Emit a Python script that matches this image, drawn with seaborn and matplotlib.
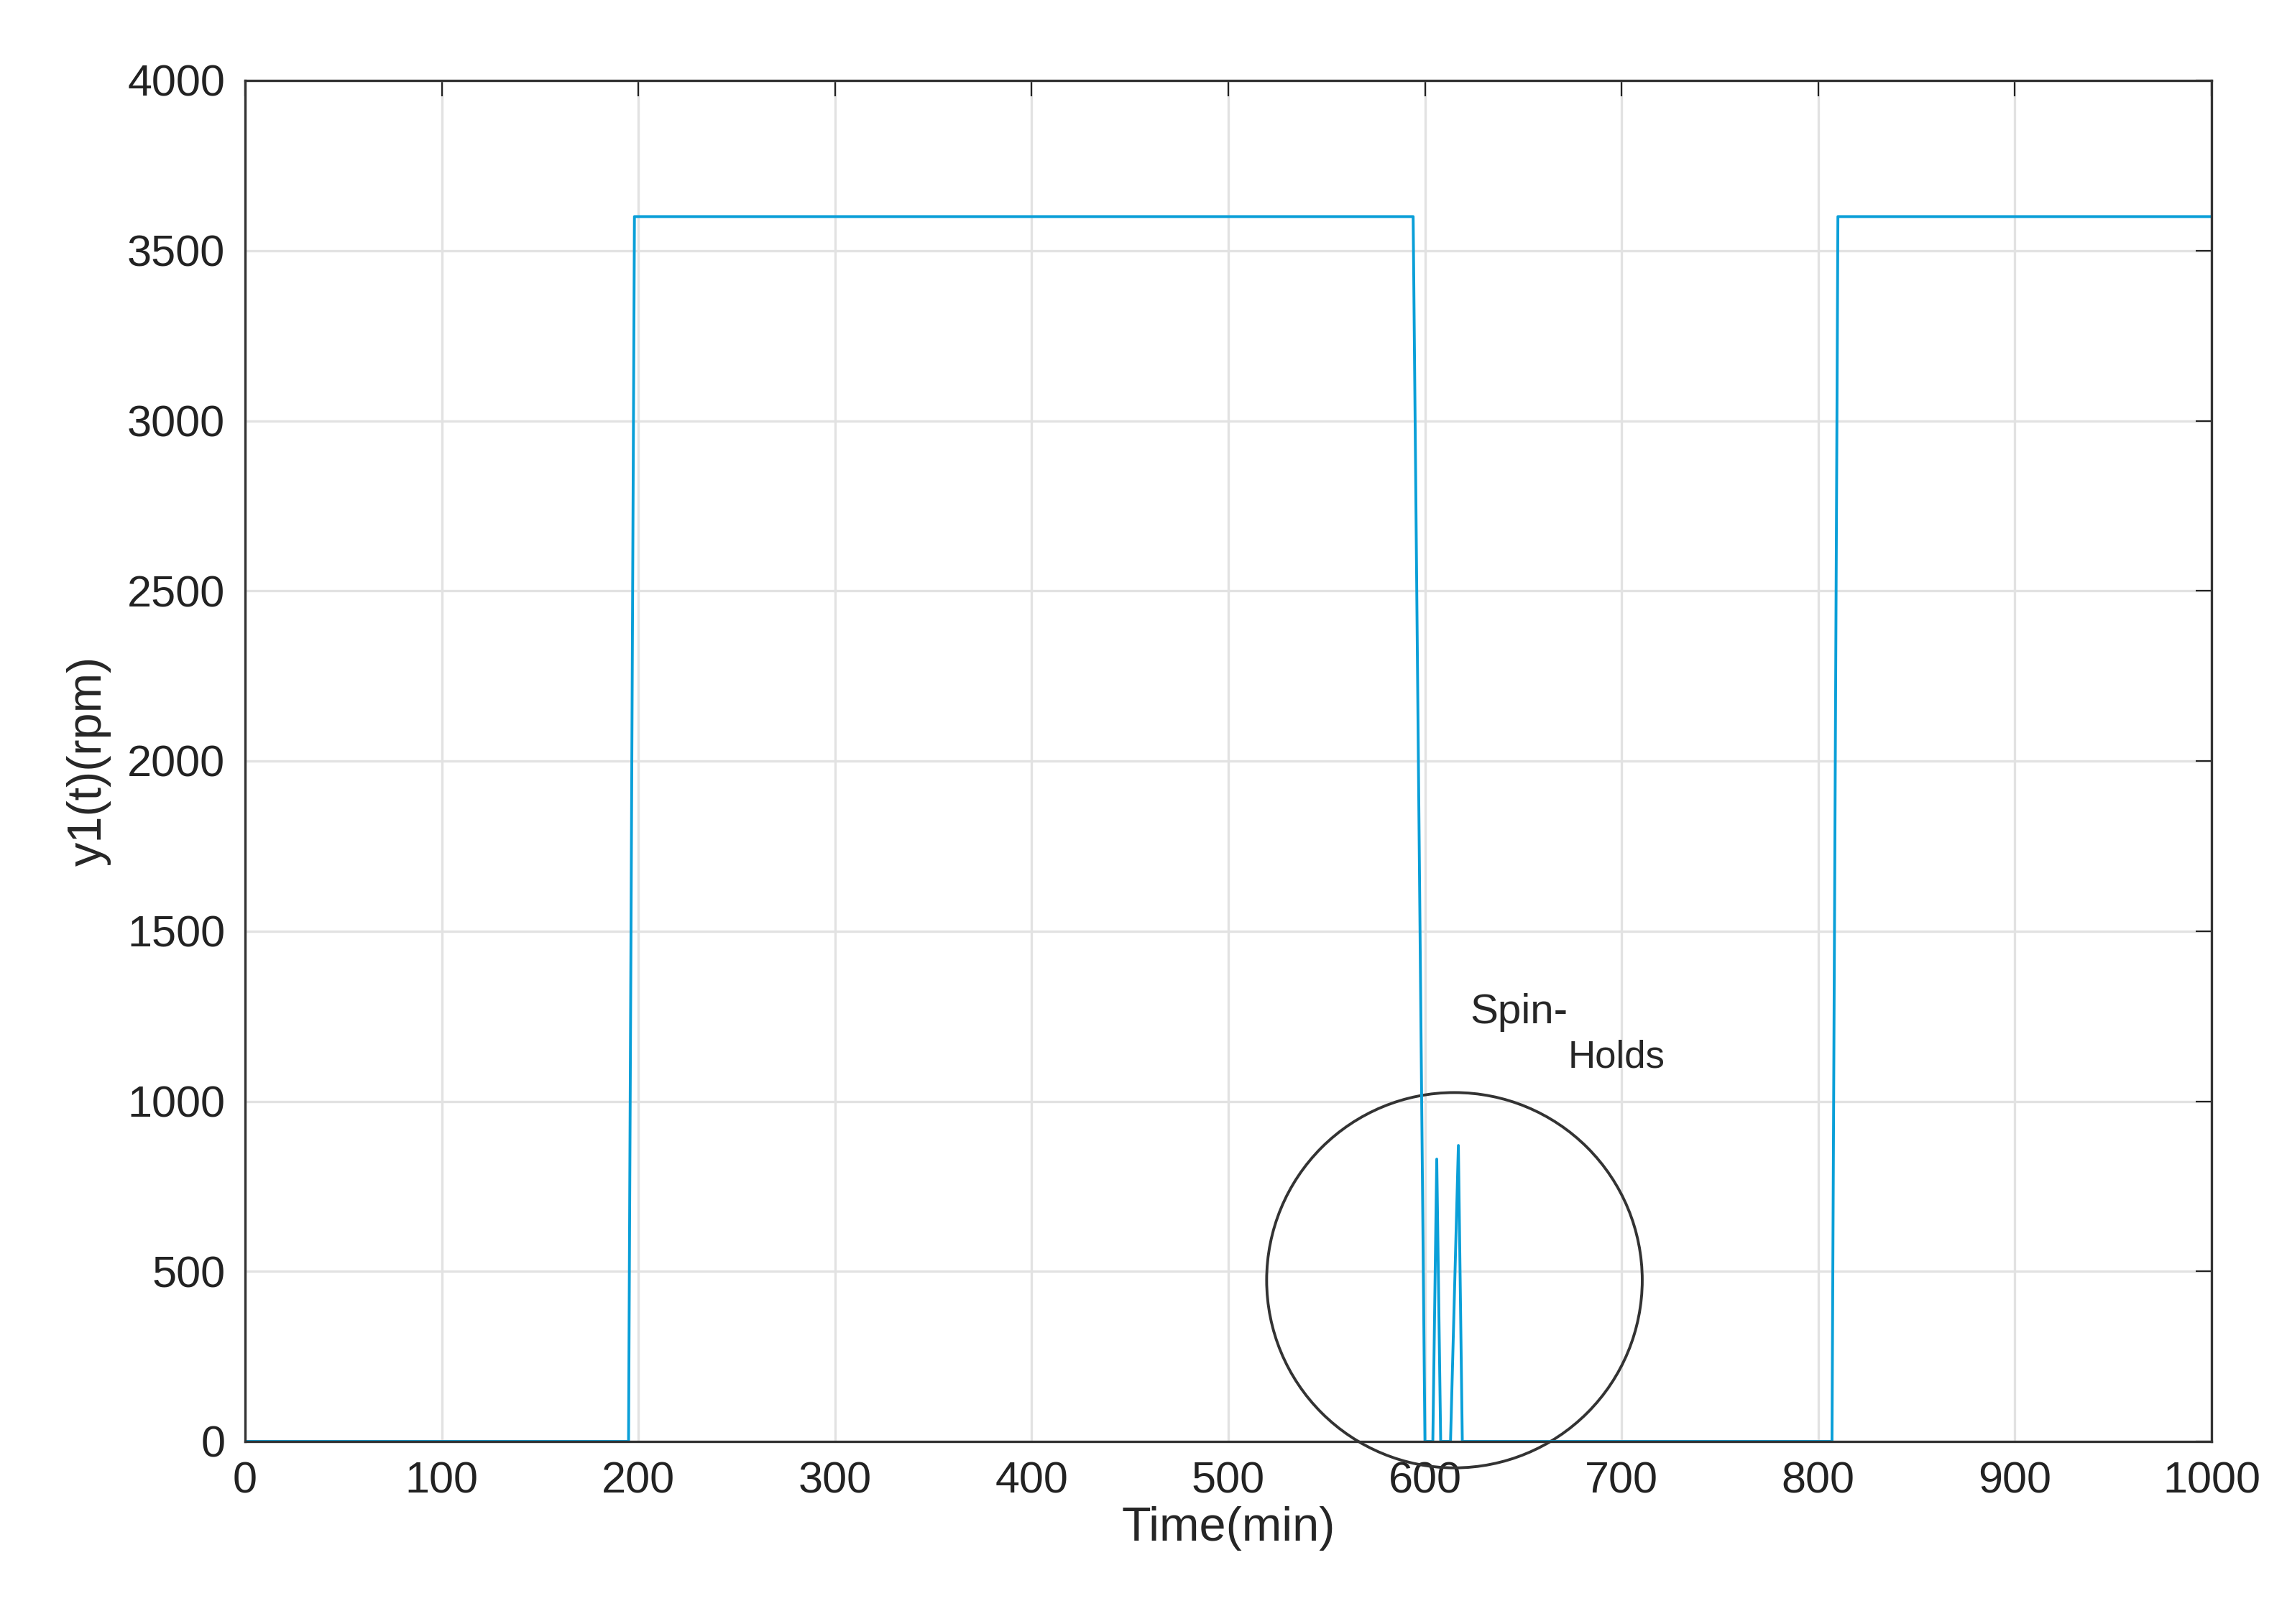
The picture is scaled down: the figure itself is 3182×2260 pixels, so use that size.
import matplotlib
matplotlib.use('Agg')
import matplotlib.pyplot as plt
from matplotlib.patches import Ellipse
import seaborn as sns
import pandas as pd

# опорные точки сигнала скорости
time_min = [0, 195, 198, 594, 600, 604, 606, 608, 613, 617, 619, 807, 810, 1000]
speed_rpm = [0, 0, 3600, 3600, 0, 0, 830, 0, 0, 870, 0, 0, 3600, 3600]

df = pd.DataFrame({'t': time_min, 'y': speed_rpm})

sns.set_style('white')
plt.rcParams['font.family'] = ['Liberation Sans', 'DejaVu Sans']

fig = plt.figure(figsize=(15.91, 11.3), dpi=200)
ax = fig.add_axes([341 / 3182, 1 - 2006 / 2260, (3077 - 341) / 3182, (2006 - 112) / 2260])
sns.lineplot(data=df, x='t', y='y', ax=ax, color='#0a9fd8', linewidth=1.4)

ax.set_xlim(0, 1000)
ax.set_ylim(0, 4000)
ax.set_xticks(range(0, 1001, 100))
ax.set_yticks(range(0, 4001, 500))
ax.grid(True, color='#e2e2e2', linewidth=1.2)
ax.tick_params(direction='in', length=8, labelsize=22, pad=10, top=True, right=True, colors='#222222')
for s in ax.spines.values():
    s.set_color('#333333')
    s.set_linewidth(1.2)
ax.set_xlabel('Time(min)', fontsize=24, labelpad=2)
ax.set_ylabel('y1(t)(rpm)', fontsize=24, labelpad=8)

ax.add_patch(Ellipse((615, 474), 191, 1103, fill=False, edgecolor='#333333', linewidth=1.4, clip_on=False))
spin = ax.text(623, 1230, 'Spin-', fontsize=21)
ax.annotate('Holds', xy=(1, 0), xycoords=spin, xytext=(0, -4), textcoords='offset points',
            fontsize=19, va='top')

fig.savefig('out.png')
